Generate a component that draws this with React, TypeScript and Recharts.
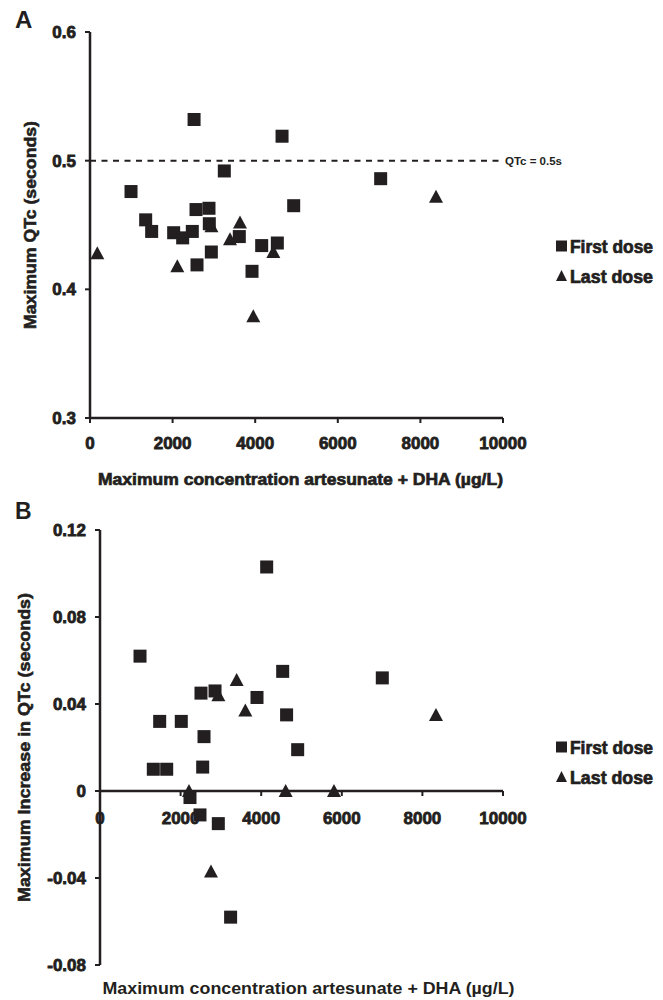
import React from "react";
import { ScatterChart, Scatter, XAxis, YAxis, ReferenceLine, Label } from "recharts";

const INK = "#231f20";
const FONT = '"Liberation Sans", Arial, Helvetica, sans-serif';

// axis ticks
const concTicks = [0, 2000, 4000, 6000, 8000, 10000];
const qtcTicks = [0.3, 0.4, 0.5, 0.6];
const increaseTicks = [-0.08, -0.04, 0, 0.04, 0.08, 0.12];

// Panel A: maximum QTc vs max concentration
const firstConcA = [2520, 4650, 3252, 993, 4932, 2567, 2881, 1348, 1493, 2026, 2244, 2477, 2889, 3615, 4157, 4536, 2938, 2591, 3923, 7038];
const firstQtcA = [0.532, 0.519, 0.492, 0.476, 0.465, 0.462, 0.463, 0.454, 0.445, 0.444, 0.44, 0.445, 0.451, 0.441, 0.434, 0.436, 0.429, 0.419, 0.414, 0.486];
const lastConcA = [177, 2114, 2940, 3390, 3632, 4439, 3954, 8378];
const lastQtcA = [0.428, 0.418, 0.449, 0.439, 0.452, 0.429, 0.379, 0.472];

// Panel B: maximum increase in QTc vs max concentration
const firstConcB = [993, 4136, 4533, 2506, 2854, 3896, 1481, 2017, 4630, 2581, 4905, 1323, 1655, 2548, 2233, 2481, 2936, 3241, 7005];
const firstIncB = [0.062, 0.103, 0.055, 0.045, 0.046, 0.043, 0.032, 0.032, 0.035, 0.025, 0.019, 0.01, 0.01, 0.011, -0.003, -0.011, -0.015, -0.058, 0.052];
const lastConcB = [3391, 2937, 3606, 2208, 2754, 4607, 5806, 8337];
const lastIncB = [0.051, 0.044, 0.037, 0, -0.037, 0, 0, 0.035];

const legendItems = [
  { name: "First dose", shape: "square" },
  { name: "Last dose", shape: "triangle" },
];

const toPoints = (xs: number[], ys: number[]) => xs.map((x, i) => ({ conc: x, value: ys[i] }));

const firstA = toPoints(firstConcA, firstQtcA);
const lastA = toPoints(lastConcA, lastQtcA);
const firstB = toPoints(firstConcB, firstIncB);
const lastB = toPoints(lastConcB, lastIncB);

const SquareMark = (props: any) => {
  const { cx, cy } = props;
  return <rect x={cx - 6.5} y={cy - 6.5} width={13} height={13} fill={INK} />;
};

const TriangleMark = (props: any) => {
  const { cx, cy } = props;
  return <polygon points={`${cx},${cy - 7} ${cx + 7},${cy + 6} ${cx - 7},${cy + 6}`} fill={INK} />;
};

const NoMark = () => <g />;

const tickStyle = {
  fill: INK,
  fontSize: 17,
  fontWeight: 700,
  fontFamily: FONT,
  stroke: INK,
  strokeWidth: 0.8,
};

const axisLine = { stroke: INK, strokeWidth: 2.5 };
const tickLine = { stroke: INK, strokeWidth: 2 };

const xTitle = (text: string, dx: number, dy: number, len: number, heavy: boolean) => (props: any) => {
  const vb = props.viewBox;
  const x = vb.x + vb.width / 2 + dx;
  const y = vb.y + dy;
  return (
    <text
      x={x}
      y={y}
      textAnchor="middle"
      fontFamily={FONT}
      fontWeight={700}
      fontSize={17}
      fill={INK}
      stroke={heavy ? INK : "none"}
      strokeWidth={0.7}
      textLength={len}
      lengthAdjust="spacingAndGlyphs"
    >
      {text}
    </text>
  );
};

const yTitle = (text: string, x: number, len: number) => (props: any) => {
  const vb = props.viewBox;
  const y = vb.y + vb.height / 2;
  return (
    <text
      x={x}
      y={y}
      transform={`rotate(-90 ${x} ${y})`}
      textAnchor="middle"
      fontFamily={FONT}
      fontWeight={700}
      fontSize={17}
      fill={INK}
      stroke={INK}
      strokeWidth={0.6}
      textLength={len}
      lengthAdjust="spacingAndGlyphs"
    >
      {text}
    </text>
  );
};

const LegendBlock = ({ top }: { top: number }) => (
  <g>
    {legendItems.map((item, i) => {
      const cy = top + i * 30;
      return (
        <g key={item.name}>
          {item.shape === "square" ? (
            <rect x={556} y={cy - 5.5} width={11} height={11} fill={INK} />
          ) : (
            <polygon points={`561.5,${cy - 6} 567,${cy + 5} 556,${cy + 5}`} fill={INK} />
          )}
          <text
            x={570}
            y={cy + 7}
            fontFamily={FONT}
            fontWeight={700}
            fontSize={17.5}
            fill={INK}
            stroke={INK}
            strokeWidth={0.7}
            textLength={83}
            lengthAdjust="spacingAndGlyphs"
          >
            {item.name}
          </text>
        </g>
      );
    })}
  </g>
);

const layer: React.CSSProperties = { position: "absolute", left: 0 };

export default function App() {
  return (
    <div style={{ position: "absolute", left: 0, top: 0, width: 663, height: 1000, background: "#fff" }}>
      {/* Panel A */}
      <div style={{ ...layer, top: 0 }}>
        <ScatterChart width={663} height={500} margin={{ top: 32, right: 160, bottom: 22, left: 0 }}>
          <XAxis
            type="number"
            dataKey="conc"
            domain={[0, 10000]}
            ticks={concTicks}
            height={60}
            tick={tickStyle}
            tickSize={5}
            tickMargin={14}
            axisLine={axisLine}
            tickLine={tickLine}
          >
            <Label content={xTitle("Maximum concentration artesunate + DHA (\u00b5g/L)", 4, 67, 405, true)} />
          </XAxis>
          <YAxis
            type="number"
            dataKey="value"
            domain={[0.3, 0.6]}
            ticks={qtcTicks}
            width={90}
            tick={tickStyle}
            tickSize={5}
            tickMargin={9}
            axisLine={axisLine}
            tickLine={tickLine}
          >
            <Label content={yTitle("Maximum QTc (seconds)", 36, 208)} />
          </YAxis>
          <ReferenceLine
            y={0.5}
            stroke={INK}
            strokeWidth={2}
            strokeDasharray="6 5.5"
            label={{ value: "QTc = 0.5s", position: "right", fill: INK, fontSize: 11.5, fontFamily: FONT, fontWeight: 700, offset: 2 }}
          />
          <Scatter name="First dose" data={firstA} shape={SquareMark} isAnimationActive={false} />
          <Scatter name="Last dose" data={lastA} shape={TriangleMark} isAnimationActive={false} />
        </ScatterChart>
      </div>

      {/* Panel B: x axis drawn at zero */}
      <div style={{ ...layer, top: 500 }}>
        <ScatterChart width={663} height={500} margin={{ top: 30, right: 160, bottom: 149, left: 100 }}>
          <XAxis
            type="number"
            dataKey="conc"
            domain={[0, 10000]}
            ticks={concTicks}
            height={60}
            tick={tickStyle}
            tickSize={5}
            tickMargin={16}
            axisLine={axisLine}
            tickLine={tickLine}
          />
          <YAxis type="number" dataKey="value" domain={[-0.08, 0.12]} hide />
          <Scatter data={firstB} shape={NoMark} isAnimationActive={false} />
        </ScatterChart>
      </div>

      {/* Panel B: data */}
      <div style={{ ...layer, top: 500 }}>
        <ScatterChart width={663} height={500} margin={{ top: 30, right: 160, bottom: 0, left: 0 }}>
          <XAxis
            type="number"
            dataKey="conc"
            domain={[0, 10000]}
            ticks={concTicks}
            height={35}
            tick={false}
            tickLine={false}
            axisLine={false}
          >
            <Label content={xTitle("Maximum concentration artesunate + DHA (\u00b5g/L)", 7, 29, 412, false)} />
          </XAxis>
          <YAxis
            type="number"
            dataKey="value"
            domain={[-0.08, 0.12]}
            ticks={increaseTicks}
            width={100}
            tick={tickStyle}
            tickSize={5}
            tickMargin={9}
            axisLine={axisLine}
            tickLine={tickLine}
          >
            <Label content={yTitle("Maximum Increase in QTc (seconds)", 30, 309)} />
          </YAxis>
          <Scatter name="First dose" data={firstB} shape={SquareMark} isAnimationActive={false} />
          <Scatter name="Last dose" data={lastB} shape={TriangleMark} isAnimationActive={false} />
        </ScatterChart>
      </div>

      {/* panel letters and legends */}
      <svg width={663} height={1000} style={{ position: "absolute", left: 0, top: 0, pointerEvents: "none" }}>
        <text x={15} y={28} fontFamily={FONT} fontWeight={700} fontSize={24} fill={INK}>A</text>
        <text x={15} y={519} fontFamily={FONT} fontWeight={700} fontSize={23} fill={INK}>B</text>
        <LegendBlock top={246} />
        <LegendBlock top={747} />
      </svg>
    </div>
  );
}
